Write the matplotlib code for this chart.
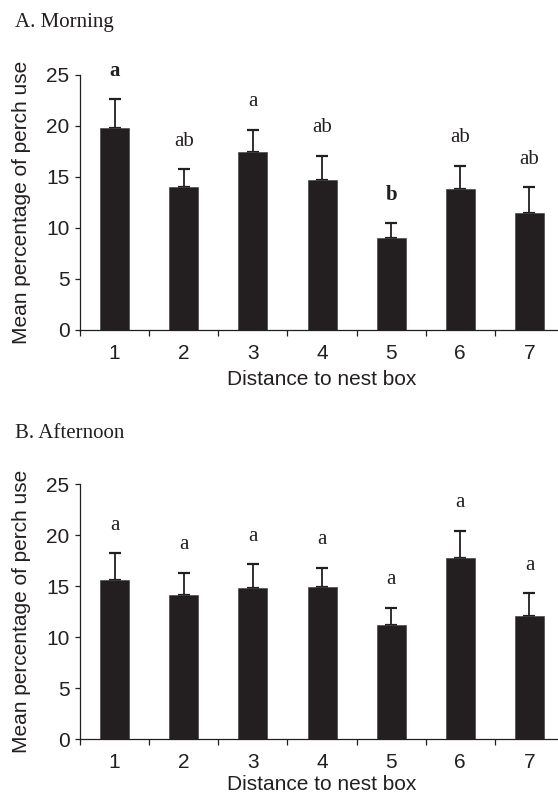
import matplotlib
matplotlib.use("Agg")
import matplotlib.pyplot as plt
import numpy as np

# data
distance = [1, 2, 3, 4, 5, 6, 7]

morning_mean = [19.8, 14.0, 17.4, 14.7, 9.0, 13.8, 11.5]
morning_se = [2.85, 1.75, 2.2, 2.35, 1.45, 2.3, 2.5]
morning_letters = ["a", "ab", "a", "ab", "b", "ab", "ab"]
morning_bold = [True, False, False, False, True, False, False]

afternoon_mean = [15.6, 14.1, 14.8, 14.9, 11.2, 17.8, 12.1]
afternoon_se = [2.6, 2.2, 2.35, 1.9, 1.7, 2.65, 2.2]
afternoon_letters = ["a", "a", "a", "a", "a", "a", "a"]
afternoon_bold = [False] * 7

yticks = [0, 5, 10, 15, 20, 25]

ink = "#231f20"
sans = "Liberation Sans"
serif = "Liberation Serif"

fig = plt.figure(figsize=(5.58, 7.93), dpi=100)


def panel(ax, means, ses, letters, bold, title, title_y, xpad):
    x = np.array(distance)
    ax.bar(x, means, width=0.42, color=ink, edgecolor="#4a4a4a", linewidth=0.5, zorder=2)
    ax.errorbar(x, means, yerr=[np.zeros(len(ses)), ses], fmt="none",
                ecolor=ink, elinewidth=1.3, capsize=4, capthick=1.6, zorder=1)

    for xi, m, s, lab, b in zip(x, means, ses, letters, bold):
        ax.text(xi, m + s + 2.75, lab, ha="center", va="center",
                family=serif, fontsize=15, color=ink,
                fontweight="bold" if b else "normal")

    ax.set_xlim(0.5, 7.5)
    ax.set_ylim(0, 25)
    ax.set_yticks(yticks)
    ax.set_yticklabels([str(t) for t in yticks], family=sans, fontsize=15, color=ink)

    # ticks sit between bars, labels under the bars
    ax.set_xticks(np.arange(0.5, 7.6, 1.0))
    ax.set_xticklabels([])
    ax.set_xticks(x, minor=True)
    ax.set_xticklabels([str(d) for d in distance], minor=True,
                       family=sans, fontsize=15, color=ink)
    ax.tick_params(axis="x", which="major", direction="out", length=4.5, width=0.9, color=ink)
    ax.tick_params(axis="x", which="minor", length=0, pad=10)
    ax.tick_params(axis="y", direction="out", length=3.5, width=0.9, color=ink, pad=4)

    for s in ["top", "right"]:
        ax.spines[s].set_visible(False)
    for s in ["left", "bottom"]:
        ax.spines[s].set_linewidth(0.9)
        ax.spines[s].set_color(ink)

    ax.set_xlabel("Distance to nest box", family=sans, fontsize=15, color=ink, labelpad=xpad)
    ax.set_ylabel("Mean percentage of perch use", family=sans, fontsize=15, color=ink, labelpad=11)

    fig.text(15 / 558, 1 - title_y / 793, title, family=serif, fontsize=15,
             color=ink, ha="left", va="center")


ax1 = fig.add_axes([0.1434, 0.5839, 0.8674, 0.3216])
panel(ax1, morning_mean, morning_se, morning_letters, morning_bold, "A. Morning", 22, 5)

ax2 = fig.add_axes([0.1434, 0.0677, 0.8674, 0.3219])
panel(ax2, afternoon_mean, afternoon_se, afternoon_letters, afternoon_bold, "B. Afternoon", 433, 2)

fig.savefig("out.png", dpi=100)
